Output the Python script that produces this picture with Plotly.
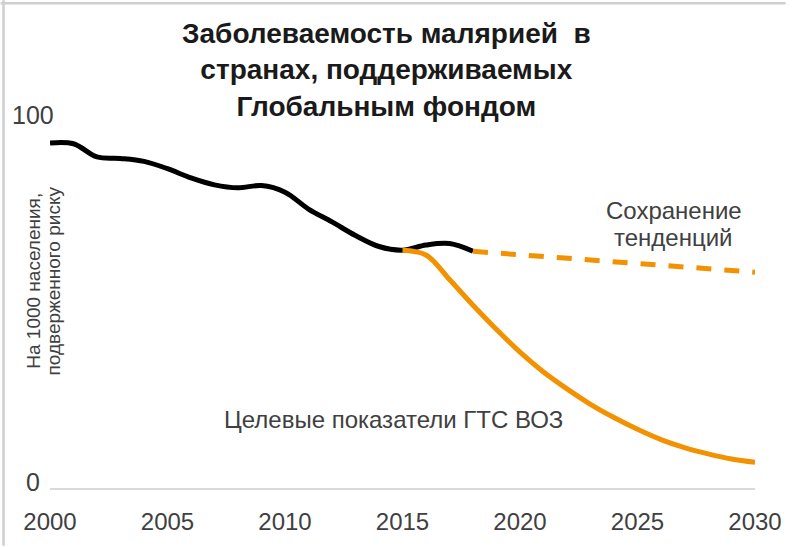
import plotly.graph_objects as go

# ---- data ----
years_hist = list(range(2000, 2019))
incidence_hist = [94.0, 93.8, 90.2, 89.8, 89.0, 87.0, 84.5, 82.6, 81.8, 82.4,
                  80.6, 76.0, 72.5, 68.8, 65.8, 64.8, 66.2, 66.6, 64.5]

years_target = list(range(2015, 2031))
incidence_target = [64.8, 63.5, 56.8, 49.8, 43.2, 37.0, 31.6, 27.0, 22.8, 19.2,
                    16.0, 13.2, 11.0, 9.3, 7.9, 7.0]

years_trend = [2018, 2022, 2026, 2030]
incidence_trend = [64.5, 62.6, 60.7, 58.8]

xtick_vals = [2000, 2005, 2010, 2015, 2020, 2025, 2030]
ytick_vals = [0, 100]

title_lines = ["Заболеваемость малярией  в", "странах, поддерживаемых", "Глобальным фондом"]
ytitle_lines = ["На 1000 населения,", "подверженного риску"]
trend_label = ["Сохранение", "тенденций"]
target_label = "Целевые показатели ГТС ВОЗ"

# ---- layout geometry ----
W, H = 794, 547
L, R, T, B = 50, 31, 121, 58
PW = W - L - R
PH = H - T - B


def px(xp):
    return (xp - L) / PW


def py(yp):
    return (H - B - yp) / PH


FONT = "Liberation Sans, Arial, sans-serif"
TXT = "#404040"
ORANGE = "#F39200"

fig = go.Figure()
fig.add_trace(go.Scatter(x=years_hist, y=incidence_hist, mode="lines",
                         line=dict(color="#000000", width=5, shape="spline"),
                         hoverinfo="skip"))
fig.add_trace(go.Scatter(x=years_target, y=incidence_target, mode="lines",
                         line=dict(color=ORANGE, width=5, shape="spline"),
                         hoverinfo="skip"))
fig.add_trace(go.Scatter(x=years_trend, y=incidence_trend, mode="lines",
                         line=dict(color=ORANGE, width=5, dash="15px,13px"),
                         hoverinfo="skip"))

annotations = []
# title
annotations.append(dict(text="<br>".join(f"<b>{s}</b>" for s in title_lines),
                        x=px(390), y=py(70), xref="paper", yref="paper",
                        xanchor="center", yanchor="middle", showarrow=False,
                        font=dict(family=FONT, size=28, color="#1a1a1a")))
# y tick labels
for v in ytick_vals:
    annotations.append(dict(text=str(v), x=px(32.5), xref="paper", y=v, yref="y",
                            yshift=6, xanchor="center", yanchor="middle",
                            showarrow=False,
                            font=dict(family=FONT, size=25, color=TXT)))
# y axis title (two rotated lines)
for xp, s in zip([33, 54], ytitle_lines):
    annotations.append(dict(text=s, x=px(xp), y=py(281), xref="paper", yref="paper",
                            xanchor="center", yanchor="middle", textangle=-90,
                            showarrow=False,
                            font=dict(family=FONT, size=19, color=TXT)))
# series labels
for yp, s in zip([211, 238], trend_label):
    annotations.append(dict(text=s, x=px(681), y=py(yp), xref="paper", yref="paper",
                            xanchor="center", yanchor="middle", showarrow=False,
                            font=dict(family=FONT, size=24, color=TXT)))
annotations.append(dict(text=target_label, x=px(397), y=py(420), xref="paper",
                        yref="paper", xanchor="center", yanchor="middle",
                        showarrow=False, font=dict(family=FONT, size=24, color=TXT)))

shapes = [
    dict(type="line", xref="paper", yref="paper", x0=px(0), x1=px(W), y0=py(3), y1=py(3),
         line=dict(color="#CFCFCF", width=2.5)),
    dict(type="line", xref="paper", yref="paper", x0=px(3), x1=px(3), y0=py(0), y1=py(H),
         line=dict(color="#CFCFCF", width=2.5)),
]

fig.update_layout(
    width=W, height=H,
    margin=dict(l=L, r=R, t=T, b=B, pad=0),
    paper_bgcolor="white", plot_bgcolor="white",
    showlegend=False,
    annotations=annotations,
    shapes=shapes,
    font=dict(family=FONT, color=TXT),
    xaxis=dict(range=[2000, 2030], tickvals=xtick_vals, showgrid=False, zeroline=False,
               showline=True, linecolor="#D9D9D9", linewidth=1.5, ticks="",
               tickfont=dict(family=FONT, size=24, color=TXT), ticklabelstandoff=11,
               fixedrange=True),
    yaxis=dict(range=[0, 100], showticklabels=False, showgrid=False, zeroline=False,
               showline=False, ticks="", fixedrange=True),
)

fig.write_html("out.html", config={"displayModeBar": False},
               post_script="document.body.style.margin='0px';"
                           "document.body.style.overflow='hidden';")
